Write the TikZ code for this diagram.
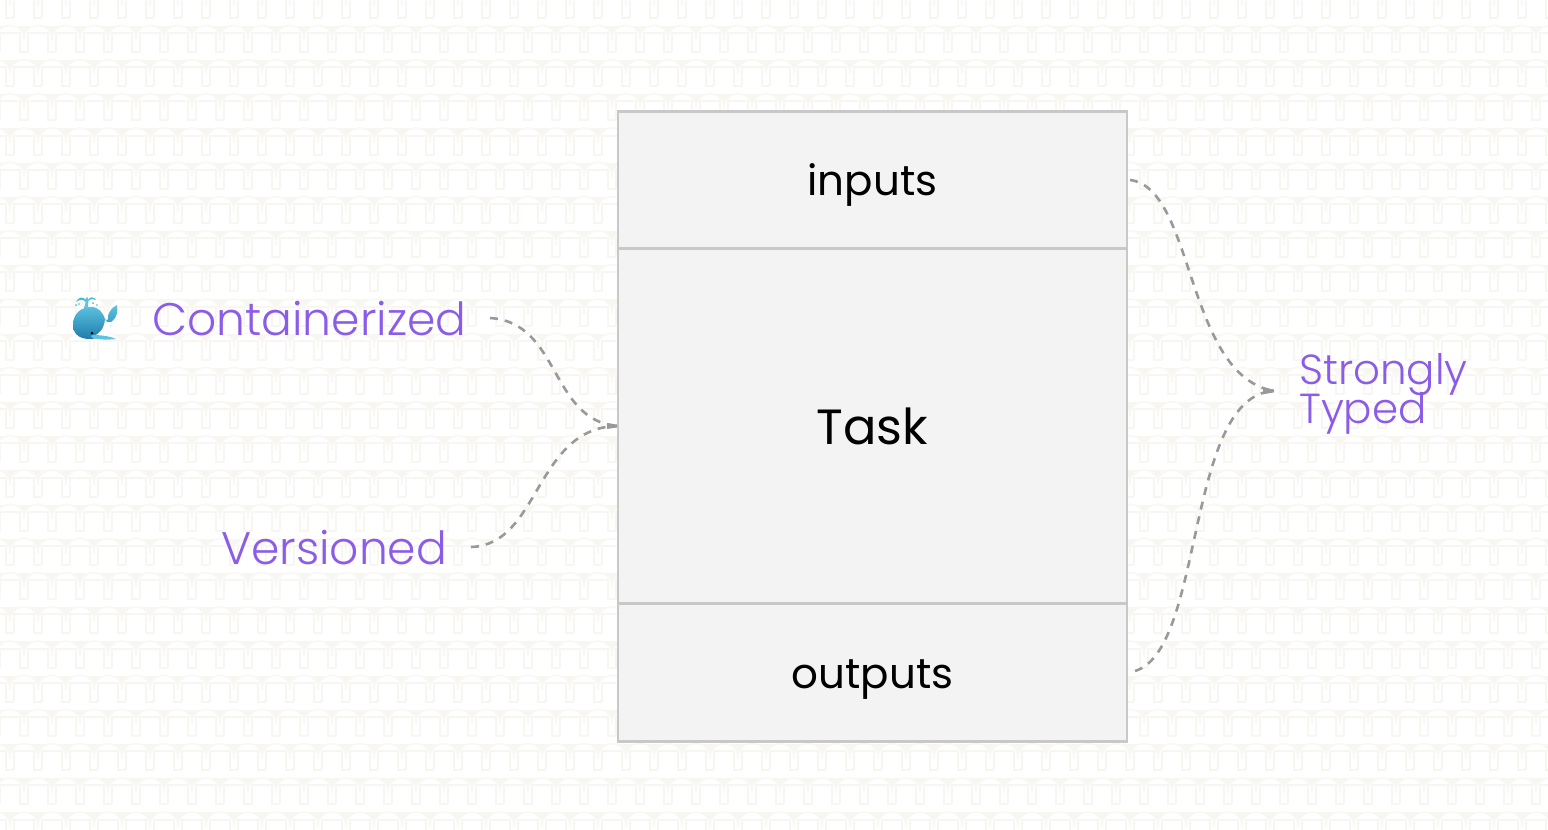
\documentclass[tikz,border=0pt]{standalone}
\usepackage{fontspec}
\setmainfont{Poppins}
\newfontfamily\plight{Poppins}[UprightFont=* Light]
\definecolor{bgcream}{HTML}{F7F6F1}
\definecolor{bgarc}{HTML}{F9F8F4}
\definecolor{boxfill}{HTML}{F3F3F3}
\definecolor{boxline}{HTML}{C8C8C8}
\definecolor{purple1}{HTML}{8B5CE8}
\definecolor{dashc}{HTML}{999999}
\definecolor{whaleA}{HTML}{5CC4E0}
\definecolor{whaleB}{HTML}{1C78A8}
\definecolor{spout}{HTML}{3CC0D8}
\tikzset{
  cell/.style={draw=boxline,line width=2.6pt,fill=boxfill,minimum width=509pt,inner sep=0pt,text=black},
  lab/.style={text=purple1,inner sep=0pt,font=\plight\fontsize{45.6}{45.6}\selectfont},
  conn/.style={draw=dashc,line width=2.6pt,dash pattern=on 8pt off 7pt},
  tip/.style={fill=dashc,draw=none},
  boxtext/.style={inner sep=0pt,font=\fontsize{42}{42}\selectfont},
}
\begin{document}
\begin{tikzpicture}[x=1pt,y=-1pt]
\useasboundingbox (0,0) rectangle (1548,830);
\begin{scope}
\clip (0,0) rectangle (1548,830);
\fill[bgcream] (0,0) rectangle (1548,830);
\foreach \k in {-1,...,23}{
  \pgfmathsetmacro{\yy}{25+34.2*\k}
  \pgfmathsetmacro{\xo}{10-28+(mod(\k+2,2)==0?0:14)}
  \fill[white] (0,\yy+15) rectangle (1548,\yy+35);
  \foreach \n in {0,...,56}{
    \pgfmathsetmacro{\cx}{\xo+28*\n}
    \fill[white] (\cx,\yy+15) circle[radius=14.8];
  }
  \foreach \n in {0,...,56}{
    \pgfmathsetmacro{\cx}{\xo+28*\n}
    \draw[bgarc,line width=1.6pt] (\cx-14.5,\yy+15) arc[start angle=180,end angle=0,radius=14.5,y radius=-14.5];
    \draw[bgcream,line width=2pt] (\cx-10,\yy+27) -- (\cx-10,\yy+8) -- (\cx+10,\yy+8) -- (\cx+10,\yy+27) -- (\cx+18,\yy+27);
  }
}
\end{scope}
% box
\node[cell,minimum height=137pt] (inputs) at (872.5,180) {};
\node[cell,minimum height=355pt] (task) at (872.5,426) {};
\node[cell,minimum height=138pt] (outputs) at (872.5,672.5) {};
\node[boxtext] (tinputs) at (872.5,185) {inputs};
\node[boxtext,font=\fontsize{49.5}{49.5}\selectfont] (ttask) at (872.5,426) {Task};
\node[boxtext] (toutputs) at (872.5,680) {outputs};
% labels
\node[lab,anchor=west] (contain) at (152,319) {Containerized};
\node[lab,anchor=west] (versioned) at (221,548) {Versioned};
\node[lab,anchor=west,align=left,font=\plight\fontsize{42}{38.5}\selectfont] (typed) at (1299,394) {Strongly\\[-4pt]Typed};
% connectors
\coordinate (a1) at (490,318);
\coordinate (a2) at (471,547);
\coordinate (a3) at (617,426);
\coordinate (b1) at (1130,180);
\coordinate (b2) at (1135,671);
\coordinate (b3) at (1274,391);
\draw[conn] (a1) .. controls (560,322) and (550,420) .. (a3);
\draw[conn] (a2) .. controls (540,545) and (535,428) .. (a3);
\draw[conn] (b1) .. controls (1195,188) and (1185,375) .. (b3);
\draw[conn] (b2) .. controls (1205,650) and (1185,395) .. (b3);
\fill[tip] (b3) ++(-11,-3.2) -- ++(0,6.4) -- ++(11,-1.8) -- ++(0,-3) -- cycle;
\fill[tip] (a3) ++(-10,-3) -- ++(0,6) -- ++(10,-1.6) -- ++(0,-2.8) -- cycle;
% whale
\shade[top color=whaleA,bottom color=whaleB]
  (73,325) .. controls (73,313) and (82,307) .. (91,307)
  .. controls (99,307) and (103,313) .. (105,319)
  .. controls (106,321) and (107,321) .. (108,319)
  .. controls (107,314) and (111,308) .. (117,305)
  .. controls (118,312) and (117,318) .. (111,322)
  .. controls (111,328) and (108,335) .. (100,337)
  .. controls (90,341) and (73,340) .. (73,325) -- cycle;
\fill[white] (92,336) .. controls (100,335) and (104,328) .. (105,320)
  .. controls (106,322) and (108,323) .. (111,322)
  .. controls (111,329) and (108,335) .. (103,337) -- cycle;
\fill[whaleA] (92,335) .. controls (100,335) and (110,336) .. (116,339)
  .. controls (108,340) and (98,340) .. (91,337) -- cycle;
\fill[black] (92,333) circle[radius=1.5];
% spout
\fill[whaleA] (84,308) -- (85.5,303) .. controls (85,301) and (85,299) .. (86,298)
  .. controls (87,297) and (88,297) .. (88,298)
  .. controls (89,300) and (88,303) .. (88,308) -- cycle;
\fill[spout] (88,300) .. controls (90,296) and (94,297) .. (96,300)
  .. controls (93,298.5) and (91,298.5) .. (88,301) -- cycle;
\fill[spout] (86,300) .. controls (83,296) and (78,297) .. (76,302)
  .. controls (79,299.5) and (83,299) .. (85.5,301.5) -- cycle;
\fill[spout] (76,305) circle[radius=1];
\fill[spout] (93,303) circle[radius=1];
\fill[spout] (97,305) circle[radius=0.9];
\fill[spout] (79,304) circle[radius=0.8];
\end{tikzpicture}
\end{document}
